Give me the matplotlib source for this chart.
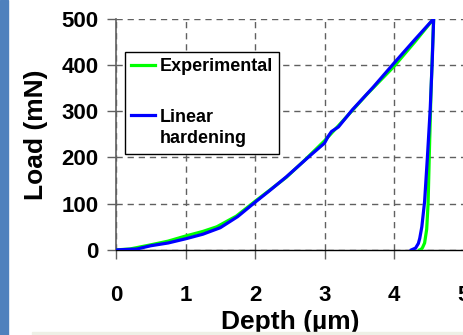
import matplotlib
matplotlib.use("Agg")
import matplotlib.pyplot as plt
from matplotlib.patches import Rectangle

plt.rcParams['font.family'] = ['Liberation Sans', 'DejaVu Sans']

# experimental curve (loading then unloading)
exp_depth = [0, 0.2, 0.5, 0.75, 1.0, 1.25, 1.45, 1.73, 2.0, 2.2, 2.45, 2.7, 3.0, 3.3, 3.6, 4.0, 4.3, 4.57,
             4.55, 4.53, 4.51, 4.49, 4.47, 4.44, 4.41, 4.39, 4.37]
exp_load = [0, 2, 11, 19, 30, 40, 50, 73, 105, 128, 157, 192, 236, 285, 335, 397, 450, 500,
            420, 330, 220, 100, 45, 15, 5, 1, 0]

# linear hardening simulation
lin_depth = [0, 0.3, 0.5, 0.75, 1.0, 1.25, 1.5, 1.75, 2.0, 2.2, 2.45, 2.8, 3.0, 3.05, 3.1, 3.2, 3.4, 3.7, 4.0, 4.3, 4.57,
             4.55, 4.52, 4.48, 4.44, 4.40, 4.37, 4.35, 4.31, 4.25]
lin_load = [0, 2, 9, 15, 24, 34, 48, 72, 103, 127, 158, 205, 231, 245, 256, 266, 303, 352, 404, 455, 500,
            410, 303, 200, 105, 50, 25, 14, 4, 0]

xticks = [0, 1, 2, 3, 4, 5]
yticks = [0, 100, 200, 300, 400, 500]

fig = plt.figure(figsize=(4.64, 3.35), dpi=100)
ax = fig.add_axes([0.25, 0.254, 0.749, 0.69])

ax.plot(exp_depth, exp_load, color='#00ff00', lw=2.3, label='Experimental', zorder=3)
ax.plot(lin_depth, lin_load, color='#0000ff', lw=2.3, label='Linear\nhardening', zorder=4)

ax.set_xlim(0, 5)
ax.set_ylim(0, 500)
ax.set_xticks(xticks)
ax.set_yticks(yticks)
ax.grid(True, color='#606060', linestyle=(0, (4.5, 3.5)), lw=1.0)
ax.spines['top'].set_visible(False)
ax.spines['right'].set_visible(False)
ax.spines['left'].set_color('#606060')
ax.spines['left'].set_linewidth(1.2)
ax.spines['bottom'].set_color('black')
ax.spines['bottom'].set_linewidth(1.0)
ax.tick_params(axis='both', direction='out', length=6.5, width=1.0, color='#606060', labelsize=16)
ax.tick_params(axis='y', pad=6)
ax.tick_params(axis='x', pad=19)
for lab in ax.get_xticklabels() + ax.get_yticklabels():
    lab.set_fontweight('bold')

ax.set_xlabel('Depth (µm)', fontsize=19, fontweight='bold', labelpad=3)
ax.set_ylabel('Load (mN)', fontsize=19, fontweight='bold', labelpad=10)

leg = ax.legend(loc='upper left', bbox_to_anchor=(0.026, 0.857), borderaxespad=0,
                prop={'weight': 'bold', 'size': 13}, frameon=True, fancybox=False,
                edgecolor='black', framealpha=1, handlelength=1.3, handletextpad=0.28,
                labelspacing=1.9, borderpad=0.35)
leg.get_frame().set_linewidth(1.0)
for t in leg.get_texts():
    t.set_linespacing(1.3)
# put the blue handle on the first text line, like the original
hl = leg.get_lines()[1]
hl.set_ydata([y + 9.5 for y in hl.get_ydata()])

# blue strip on the left edge and pale band at the bottom
fig.patches.append(Rectangle((0, 0), 8 / 464, 1, transform=fig.transFigure, color='#4f81bd', zorder=0))
fig.patches.append(Rectangle((32 / 464, 0), 1, 3 / 335, transform=fig.transFigure, color='#eef0e6', zorder=0))

fig.savefig('out.png', dpi=100)
